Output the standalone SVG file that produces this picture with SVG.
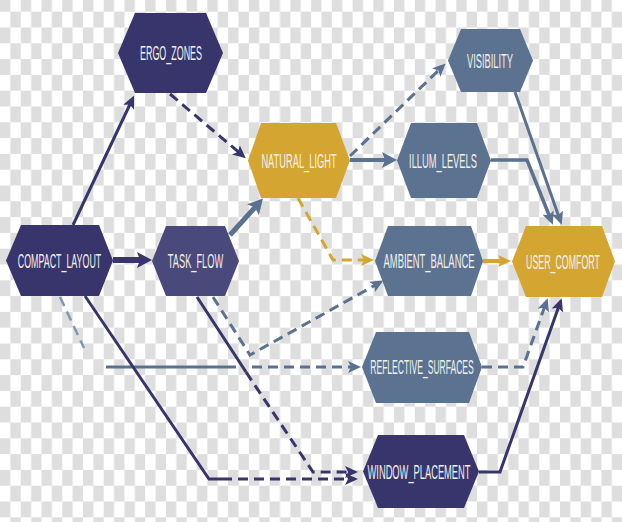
<svg xmlns="http://www.w3.org/2000/svg" width="622" height="522" viewBox="0 0 622 522">
  <defs>
    <pattern id="checker" width="20.74" height="31.6" patternUnits="userSpaceOnUse" patternTransform="translate(0,11.7)">
      <rect x="0" y="0" width="20.74" height="31.6" fill="#ffffff"/>
      <rect x="10.37" y="0" width="10.37" height="15.8" fill="#dedede"/>
      <rect x="0" y="15.8" width="10.37" height="15.8" fill="#dedede"/>
    </pattern>
    <marker id="aNavy" markerUnits="userSpaceOnUse" markerWidth="14" markerHeight="12" refX="8" refY="6" orient="auto">
      <path d="M0,0 L13,6 L0,12 L3,6 Z" fill="#37356b"/>
    </marker>
    <marker id="aNavyBig" markerUnits="userSpaceOnUse" markerWidth="16" markerHeight="16" refX="9" refY="8" orient="auto">
      <path d="M0,0 L15,8 L0,16 L3,8 Z" fill="#37356b"/>
    </marker>
    <marker id="aSlate" markerUnits="userSpaceOnUse" markerWidth="14" markerHeight="12" refX="8" refY="6" orient="auto">
      <path d="M0,0 L13,6 L0,12 L3,6 Z" fill="#5a7190"/>
    </marker>
    <marker id="aSlateBig" markerUnits="userSpaceOnUse" markerWidth="16" markerHeight="16" refX="9" refY="8" orient="auto">
      <path d="M0,0 L15,8 L0,16 L3,8 Z" fill="#5a7190"/>
    </marker>
    <marker id="aGold" markerUnits="userSpaceOnUse" markerWidth="14" markerHeight="12" refX="8" refY="6" orient="auto">
      <path d="M0,0 L13,6 L0,12 L3,6 Z" fill="#d4a531"/>
    </marker>
  </defs>
  <style>
    .navy { fill: #37356b; }
    .navy2 { fill: #4a497b; }
    .slate { fill: #5b7391; }
    .gold { fill: #d4a531; }
    .lbl { font-family: "Liberation Sans", "DejaVu Sans", sans-serif; font-size: 19.5px; fill: #f3f0e8; text-anchor: middle; }
    .e { fill: none; stroke-linejoin: miter; }
    .sn { stroke: #37356b; }
    .ss { stroke: #5a7190; }
    .sg { stroke: #d4a531; }
    .sl { stroke: #8196b3; }
    .d { stroke-dasharray: 10 6; }
  </style>
  <rect x="0" y="0" width="622" height="522" fill="url(#checker)"/>

  <g id="edges">
    <path class="e sn" stroke-width="3" d="M73,225 L132,100" marker-end="url(#aNavy)"/>
    <path class="e sn d" stroke-width="3" d="M170,94 L242,155" marker-end="url(#aNavy)"/>
    <path class="e ss d" stroke-width="3" d="M350,156 L442,67" marker-end="url(#aSlate)"/>
    <path class="e ss" stroke-width="4" d="M350,160 L391,160" marker-end="url(#aSlateBig)"/>
    <path class="e ss" stroke-width="3.5" d="M491,160 L527,160 L551,220" marker-end="url(#aSlate)"/>
    <path class="e ss" stroke-width="3" d="M515,92 L560,220" marker-end="url(#aSlate)"/>
    <path class="e sn" stroke-width="6" d="M113,260 L146,260" marker-end="url(#aNavyBig)"/>
    <path class="e ss" stroke-width="5" d="M230,235 L259,203" marker-end="url(#aSlateBig)"/>
    <path class="e sg d" stroke-width="3" d="M298,198 L333,260 L369,260" marker-end="url(#aGold)"/>
    <path class="e sg" stroke-width="4" d="M483,261 L506,261" marker-end="url(#aGold)"/>
    <path class="e ss d" stroke-width="3" d="M213,297 L250,355 L379,283" marker-end="url(#aSlate)"/>
    <path class="e sl d" stroke-width="2.5" d="M60,297 L84,348"/>
    <path class="e ss" stroke-width="3" d="M106,367 L236,367"/>
    <path class="e ss d" stroke-width="3" d="M252,367 L356,367" marker-end="url(#aSlate)"/>
    <path class="e ss d" stroke-width="3" d="M482,367 L523,367 L546,303" marker-end="url(#aSlate)"/>
    <path class="e sn" stroke-width="3" d="M479,472 L500,472 L560,303" marker-end="url(#aNavy)"/>
    <path class="e sn" stroke-width="3" d="M85,296 L209,479 L222,479"/>
    <path class="e sn d" stroke-width="3" d="M222,479 L353,479" marker-end="url(#aNavy)"/>
    <path class="e sn" stroke-width="3" d="M197,297 L246,372"/>
    <path class="e sn d" stroke-width="3" d="M246,372 L313,472 L353,472" marker-end="url(#aNavy)"/>
  </g>

  <g id="ERGO_ZONES">
    <polygon class="navy" points="118,53 135,13 206,13 223,53 206,93 135,93"/>
    <text class="lbl" transform="translate(171,60) scale(0.458,1)">ERGO_ZONES</text>
  </g>
  <g id="NATURAL_LIGHT">
    <polygon class="gold" points="248,160.5 261,123 336,123 350,160.5 336,198 261,198"/>
    <text class="lbl" transform="translate(299,167.5) scale(0.477,1)">NATURAL_LIGHT</text>
  </g>
  <g id="VISIBILITY">
    <polygon class="slate" points="448,60.5 461,29 520,29 533,60.5 520,92 461,92"/>
    <text class="lbl" transform="translate(490,67.5) scale(0.477,1)">VISIBILITY</text>
  </g>
  <g id="ILLUM_LEVELS">
    <polygon class="slate" points="397,160.5 411,123 477,123 491,160.5 477,198 411,198"/>
    <text class="lbl" transform="translate(443,167.5) scale(0.479,1)">ILLUM_LEVELS</text>
  </g>
  <g id="COMPACT_LAYOUT">
    <polygon class="navy" points="6,260.5 21,225 99,225 113,260.5 99,296 21,296"/>
    <text class="lbl" transform="translate(59.5,267.5) scale(0.456,1)">COMPACT_LAYOUT</text>
  </g>
  <g id="TASK_FLOW">
    <polygon class="navy2" points="152,261 166,226 225,226 239,261 225,296 166,296"/>
    <text class="lbl" transform="translate(195.5,268) scale(0.474,1)">TASK_FLOW</text>
  </g>
  <g id="AMBIENT_BALANCE">
    <polygon class="slate" points="375,261 388,226 471,226 483,261 471,296 388,296"/>
    <text class="lbl" transform="translate(429,268) scale(0.483,1)">AMBIENT_BALANCE</text>
  </g>
  <g id="USER_COMFORT">
    <polygon class="gold" points="512,261.5 526,226 602,226 615,261.5 602,297 526,297"/>
    <text class="lbl" transform="translate(563,268.5) scale(0.452,1)">USER_COMFORT</text>
  </g>
  <g id="REFLECTIVE_SURFACES">
    <polygon class="slate" points="362,367 376,332 469,332 482,367 469,403 376,403"/>
    <text class="lbl" transform="translate(422,374) scale(0.438,1)">REFLECTIVE_SURFACES</text>
  </g>
  <g id="WINDOW_PLACEMENT">
    <polygon class="navy" points="363,471.5 378,435 464,435 479,471.5 464,508 378,508"/>
    <text class="lbl" transform="translate(419,478.5) scale(0.478,1)">WINDOW_PLACEMENT</text>
  </g>
</svg>
